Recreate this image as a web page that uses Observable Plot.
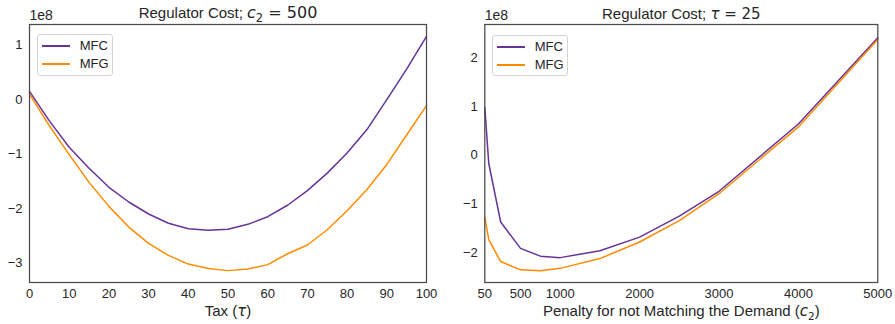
<!DOCTYPE html>
<html><head><meta charset="utf-8">
<script src="https://cdn.jsdelivr.net/npm/d3@7"></script>
<script src="https://cdn.jsdelivr.net/npm/@observablehq/plot@0.6"></script>
<style>
body{margin:0;background:#fff;font-family:"Liberation Sans",Arial,sans-serif;}
#wrap{position:relative;width:895px;height:324px;overflow:hidden;}
.panel{position:absolute;top:0;}
.legend{position:absolute;box-sizing:border-box;border:1px solid #d4d4d4;border-radius:3px;background:#fff;font-size:13px;color:#262626;}
.legend .ln{position:absolute;height:1.5px;width:28px;}
.legend .lb{position:absolute;line-height:14px;}
</style>
</head><body>
<div id="wrap"></div>
<script>
// ---- data (values in units of 1e8) ----
const series = ["MFC", "MFG"];
const colors = ["#663399", "#ff8c00"];

const tax = [0,5,10,15,20,25,30,35,40,45,50,55,60,65,70,75,80,85,90,95,100];
const mfcTax = [0.15,-0.39,-0.875,-1.26,-1.61,-1.88,-2.10,-2.27,-2.37,-2.40,-2.38,-2.29,-2.15,-1.94,-1.67,-1.35,-0.98,-0.55,0.0,0.56,1.16];
const mfgTax = [0.10,-0.48,-1.01,-1.52,-1.96,-2.34,-2.64,-2.86,-3.02,-3.10,-3.14,-3.11,-3.03,-2.83,-2.67,-2.39,-2.04,-1.65,-1.19,-0.65,-0.11];

const c2 = [50,100,250,500,750,1000,1500,2000,2500,3000,4000,5000];
const mfcC2 = [0.98,-0.17,-1.37,-1.91,-2.07,-2.10,-1.96,-1.68,-1.25,-0.74,0.64,2.41];
const mfgC2 = [-1.27,-1.73,-2.18,-2.35,-2.37,-2.32,-2.12,-1.78,-1.34,-0.79,0.58,2.37];

const taxXTicks = [0,10,20,30,40,50,60,70,80,90,100];
const taxYTicks = [-3,-2,-1,0,1];
const c2XTicks = [50,500,1000,2000,3000,4000,5000];
const c2YTicks = [-2,-1,0,1,2];

const exponentLabel = "1e8";
const titleLeft = "Regulator Cost; c2 = 500";
const titleRight = "Regulator Cost; tau = 25";
const xLabelLeft = "Tax (tau)";
const xLabelRight = "Penalty for not Matching the Demand (c2)";

const titleLeftHTML = 'Regulator Cost; <tspan font-family="DejaVu Sans" font-size="16"><tspan font-style="italic">c</tspan><tspan font-size="11.5" dy="3.5">2</tspan><tspan dy="-3.5"> = 500</tspan></tspan>';
const titleRightHTML = 'Regulator Cost; <tspan font-family="DejaVu Sans"><tspan font-style="italic">τ</tspan> = 25</tspan>';
const xLabelLeftHTML = 'Tax (<tspan font-family="DejaVu Sans" font-style="italic">τ</tspan>)';
const xLabelRightHTML = 'Penalty for not Matching the Demand (<tspan font-family="DejaVu Sans"><tspan font-style="italic">c</tspan><tspan font-size="10.5" dy="3.5">2</tspan></tspan><tspan dy="-3.5">)</tspan>';

function rows(xs, a, b) {
  const out = [];
  xs.forEach((x, i) => out.push({x, y: a[i], series: series[0]}));
  xs.forEach((x, i) => out.push({x, y: b[i], series: series[1]}));
  return out;
}

function panel(opts) {
  const svg = Plot.plot({
    width: opts.width, height: 324,
    marginLeft: opts.ml, marginRight: opts.mr, marginTop: 24, marginBottom: 42,
    style: {fontFamily: '"Liberation Sans", Arial, sans-serif', fontSize: "13px", color: "#262626", background: "white", overflow: "visible"},
    x: {domain: opts.xDomain, ticks: opts.xTicks, tickSize: 0, tickPadding: 6, label: null, tickFormat: d3.format("d")},
    y: {domain: opts.yDomain, ticks: opts.yTicks, tickSize: 0, tickPadding: 7, label: null, tickFormat: d3.format("d")},
    color: {domain: series, range: colors},
    marks: [
      Plot.line(opts.data, {x: "x", y: "y", stroke: "series", strokeWidth: 1.5}),
      Plot.frame({stroke: "#4a4a4a", strokeWidth: 1.25}),
      Plot.text([exponentLabel], {text: d => d, frameAnchor: "top-left", textAnchor: "start", lineAnchor: "middle", dy: -8.5, fontSize: 14, fill: "#262626"}),
      Plot.text([opts.title], {text: d => d, frameAnchor: "top", lineAnchor: "middle", dy: opts.titleDy, fontSize: 15, fill: "#262626"}),
      Plot.text([opts.xLabel], {text: d => d, frameAnchor: "bottom", lineAnchor: "middle", dy: opts.xlDy, fontSize: 15, fill: "#262626"})
    ]
  });
  const s = d3.select(svg);
  s.selectAll("text").filter(function(){ return this.textContent === opts.title; }).html(opts.titleHTML);
  s.selectAll("text").filter(function(){ return this.textContent === opts.xLabel; }).html(opts.xLabelHTML);
  return svg;
}

function legend(parent, box) {
  const lg = document.createElement("div");
  lg.className = "legend";
  Object.assign(lg.style, {left: box.x + "px", top: box.y + "px", width: box.w + "px", height: box.h + "px"});
  series.forEach((name, i) => {
    const ln = document.createElement("div");
    ln.className = "ln";
    Object.assign(ln.style, {left: "4px", top: box.rows[i] + "px", background: colors[i]});
    const lb = document.createElement("div");
    lb.className = "lb";
    lb.textContent = name;
    Object.assign(lb.style, {left: "42px", top: (box.rows[i] - 6) + "px"});
    lg.appendChild(ln); lg.appendChild(lb);
  });
  parent.appendChild(lg);
}

const wrap = document.getElementById("wrap");

const left = panel({
  width: 447, ml: 29, mr: 21,
  xDomain: [0, 100], xTicks: taxXTicks,
  yDomain: [-3.358, 1.379], yTicks: taxYTicks,
  data: rows(tax, mfcTax, mfgTax),
  title: titleLeft, titleHTML: titleLeftHTML, titleDy: -11,
  xLabel: xLabelLeft, xLabelHTML: xLabelLeftHTML, xlDy: 29
});
const pl = document.createElement("div"); pl.className = "panel"; pl.style.left = "0px"; pl.appendChild(left); wrap.appendChild(pl);

const right = panel({
  width: 448, ml: 37.3, mr: 17.7,
  xDomain: [50, 5000], xTicks: c2XTicks,
  yDomain: [-2.61, 2.68], yTicks: c2YTicks,
  data: rows(c2, mfcC2, mfgC2),
  title: titleRight, titleHTML: titleRightHTML, titleDy: -10.5,
  xLabel: xLabelRight, xLabelHTML: xLabelRightHTML, xlDy: 29
});
const pr = document.createElement("div"); pr.className = "panel"; pr.style.left = "447px"; pr.appendChild(right); wrap.appendChild(pr);

legend(wrap, {x: 36.7, y: 34, w: 76.5, h: 42, rows: [10, 28]});
legend(wrap, {x: 491.7, y: 35, w: 76.5, h: 41, rows: [10, 28]});
</script>
</body></html>
